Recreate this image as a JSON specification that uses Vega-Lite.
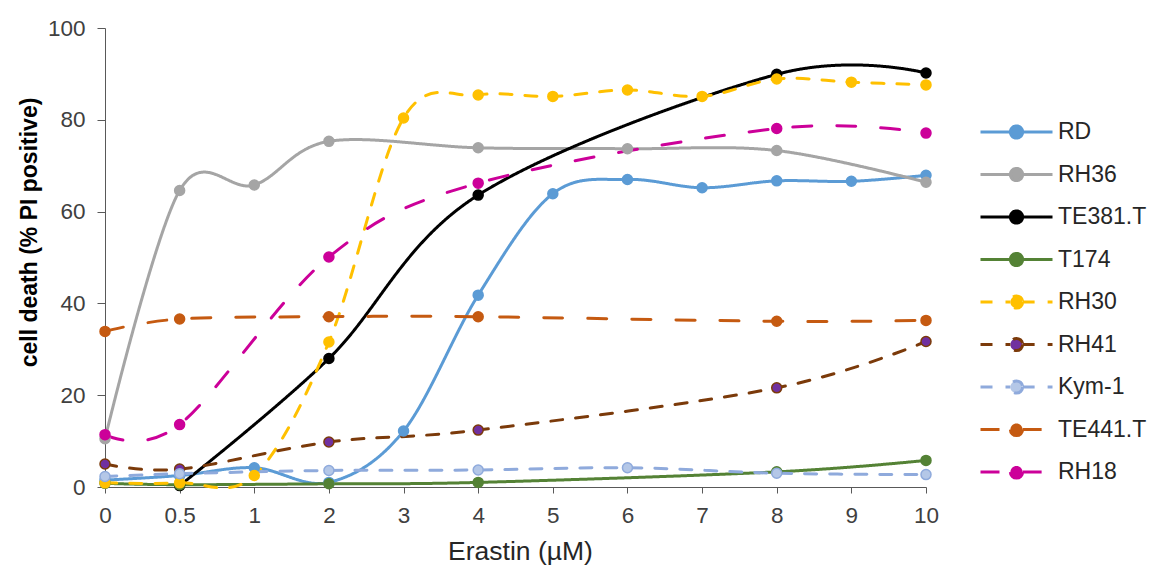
{
  "$schema": "https://vega.github.io/schema/vega-lite/v6.json",
  "width": 821,
  "height": 459,
  "autosize": {"type": "none"},
  "padding": {"left": 105, "top": 28, "right": 227, "bottom": 80},
  "background": "white",
  "config": {
    "view": {"stroke": null},
    "font": "Liberation Sans",
    "axis": {
      "domainColor": "#595959",
      "tickColor": "#595959",
      "labelColor": "#404040",
      "labelFont": "Liberation Sans",
      "titleFont": "Liberation Sans",
      "labelFontSize": 22.5,
      "grid": false
    }
  },
  "data": {
    "values": [
      {"series": "RD", "x": "0", "y": 1.5},
      {"series": "RD", "x": "0.5", "y": 2.5},
      {"series": "RD", "x": "1", "y": 4.2},
      {"series": "RD", "x": "2", "y": 1.0},
      {"series": "RD", "x": "3", "y": 12.2},
      {"series": "RD", "x": "4", "y": 41.8},
      {"series": "RD", "x": "5", "y": 63.9},
      {"series": "RD", "x": "6", "y": 67.0},
      {"series": "RD", "x": "7", "y": 65.2},
      {"series": "RD", "x": "8", "y": 66.7},
      {"series": "RD", "x": "9", "y": 66.6},
      {"series": "RD", "x": "10", "y": 67.9},
      {"series": "RH36", "x": "0", "y": 10.5},
      {"series": "RH36", "x": "0.5", "y": 64.6},
      {"series": "RH36", "x": "1", "y": 65.8},
      {"series": "RH36", "x": "2", "y": 75.3},
      {"series": "RH36", "x": "4", "y": 73.9},
      {"series": "RH36", "x": "6", "y": 73.7},
      {"series": "RH36", "x": "8", "y": 73.3},
      {"series": "RH36", "x": "10", "y": 66.4},
      {"series": "TE381.T", "x": "0.5", "y": 0.3},
      {"series": "TE381.T", "x": "2", "y": 28.0},
      {"series": "TE381.T", "x": "4", "y": 63.6},
      {"series": "TE381.T", "x": "8", "y": 89.9},
      {"series": "TE381.T", "x": "10", "y": 90.2},
      {"series": "T174", "x": "0", "y": 0.8},
      {"series": "T174", "x": "0.5", "y": 0.5},
      {"series": "T174", "x": "2", "y": 0.7},
      {"series": "T174", "x": "4", "y": 1.0},
      {"series": "T174", "x": "8", "y": 3.3},
      {"series": "T174", "x": "10", "y": 5.8},
      {"series": "RH30", "x": "0", "y": 0.9},
      {"series": "RH30", "x": "0.5", "y": 0.9},
      {"series": "RH30", "x": "1", "y": 2.5},
      {"series": "RH30", "x": "2", "y": 31.6},
      {"series": "RH30", "x": "3", "y": 80.4},
      {"series": "RH30", "x": "4", "y": 85.4},
      {"series": "RH30", "x": "5", "y": 85.1},
      {"series": "RH30", "x": "6", "y": 86.5},
      {"series": "RH30", "x": "7", "y": 85.1},
      {"series": "RH30", "x": "8", "y": 88.9},
      {"series": "RH30", "x": "9", "y": 88.2},
      {"series": "RH30", "x": "10", "y": 87.6},
      {"series": "RH41", "x": "0", "y": 5.0},
      {"series": "RH41", "x": "0.5", "y": 3.9},
      {"series": "RH41", "x": "2", "y": 9.8},
      {"series": "RH41", "x": "4", "y": 12.4},
      {"series": "RH41", "x": "8", "y": 21.6},
      {"series": "RH41", "x": "10", "y": 31.7},
      {"series": "Kym-1", "x": "0", "y": 2.3},
      {"series": "Kym-1", "x": "0.5", "y": 2.9},
      {"series": "Kym-1", "x": "2", "y": 3.6},
      {"series": "Kym-1", "x": "4", "y": 3.7},
      {"series": "Kym-1", "x": "6", "y": 4.2},
      {"series": "Kym-1", "x": "8", "y": 3.0},
      {"series": "Kym-1", "x": "10", "y": 2.7},
      {"series": "TE441.T", "x": "0", "y": 33.9},
      {"series": "TE441.T", "x": "0.5", "y": 36.6},
      {"series": "TE441.T", "x": "2", "y": 37.1},
      {"series": "TE441.T", "x": "4", "y": 37.1},
      {"series": "TE441.T", "x": "8", "y": 36.1},
      {"series": "TE441.T", "x": "10", "y": 36.3},
      {"series": "RH18", "x": "0", "y": 11.4},
      {"series": "RH18", "x": "0.5", "y": 13.6},
      {"series": "RH18", "x": "2", "y": 50.1},
      {"series": "RH18", "x": "4", "y": 66.2},
      {"series": "RH18", "x": "8", "y": 78.1},
      {"series": "RH18", "x": "10", "y": 77.1}
    ]
  },
  "encoding": {
    "x": {
      "field": "x",
      "type": "ordinal",
      "sort": ["0", "0.5", "1", "2", "3", "4", "5", "6", "7", "8", "9", "10"],
      "scale": {"type": "point", "padding": 0},
      "axis": {
        "title": "Erastin (µM)",
        "titleFontWeight": "normal",
        "titleFontSize": 26.5,
        "titleColor": "#262626",
        "titleX": 415,
        "labelAngle": 0,
        "tickSize": 6,
        "labelPadding": 11,
        "titlePadding": 12
      }
    },
    "y": {
      "field": "y",
      "type": "quantitative",
      "scale": {"domain": [0, 100], "nice": false},
      "axis": {
        "title": "cell death (% PI positive)",
        "titleFontWeight": "bold",
        "titleFontSize": 23,
        "titleColor": "#000000",
        "titleY": 204,
        "values": [0, 20, 40, 60, 80, 100],
        "tickSize": 8,
        "labelPadding": 12,
        "titlePadding": 6
      }
    }
  },
  "layer": [
    {
      "mark": {"type": "line", "interpolate": "cardinal", "tension": 0, "strokeCap": "round", "strokeJoin": "round"},
      "encoding": {
        "color": {
          "field": "series",
          "type": "nominal",
          "scale": {
            "domain": ["RD", "RH36", "TE381.T", "T174", "RH30", "RH41", "Kym-1", "TE441.T", "RH18"],
            "range": ["#5B9BD5", "#A5A5A5", "#000000", "#548235", "#FFC000", "#7B3A0A", "#8FAADC", "#C55A11", "#CC0099"]
          },
          "legend": {
            "title": null,
            "orient": "none",
            "legendX": 874,
            "legendY": 90,
            "padding": 0,
            "symbolType": "M-1,0L-0.17,0M0.17,0L1,0M0.17,0A0.17,0.17,0,1,1,-0.17,0A0.17,0.17,0,1,1,0.17,0Z",
            "symbolSize": 5184,
            "symbolStrokeWidth": 3.5,
            "clipHeight": 28,
            "labelFontSize": 23,
            "labelFont": "Liberation Sans",
            "labelColor": "#262626",
            "labelOffset": 4,
            "rowPadding": 14.5,
            "encode": {
              "symbols": {
                "update": {
                  "fill": {"signal": "datum.value === 'RH41' ? '#7030A0' : datum.value === 'Kym-1' ? '#B4C7E7' : scale('color', datum.value)"},
                  "opacity": {"value": 1}
                }
              }
            }
          }
        },
        "strokeDash": {
          "field": "series",
          "type": "nominal",
          "scale": {
            "domain": ["RD", "RH36", "TE381.T", "T174", "RH30", "RH41", "Kym-1", "TE441.T", "RH18"],
            "range": [[1, 0], [1, 0], [1, 0], [1, 0], [12, 13], [12, 13], [12, 13], [19, 25], [19, 25]]
          }
        },
        "strokeWidth": {
          "field": "series",
          "type": "nominal",
          "legend": null,
          "scale": {
            "domain": ["RD", "RH36", "TE381.T", "T174", "RH30", "RH41", "Kym-1", "TE441.T", "RH18"],
            "range": [3, 3, 3, 3, 4.5, 4.5, 4.5, 4.5, 4.5]
          }
        }
      }
    },
    {
      "mark": {"type": "point", "filled": true, "shape": "circle", "size": 100, "opacity": 1, "strokeWidth": 1.5},
      "encoding": {
        "fill": {
          "field": "series",
          "type": "nominal",
          "legend": null,
          "scale": {
            "domain": ["RD", "RH36", "TE381.T", "T174", "RH30", "RH41", "Kym-1", "TE441.T", "RH18"],
            "range": ["#5B9BD5", "#A5A5A5", "#000000", "#548235", "#FFC000", "#7030A0", "#B4C7E7", "#C55A11", "#CC0099"]
          }
        },
        "stroke": {
          "field": "series",
          "type": "nominal",
          "legend": null,
          "scale": {
            "domain": ["RD", "RH36", "TE381.T", "T174", "RH30", "RH41", "Kym-1", "TE441.T", "RH18"],
            "range": ["#5B9BD5", "#A5A5A5", "#000000", "#548235", "#FFC000", "#7B3A0A", "#8FAADC", "#C55A11", "#CC0099"]
          }
        }
      }
    }
  ]
}
